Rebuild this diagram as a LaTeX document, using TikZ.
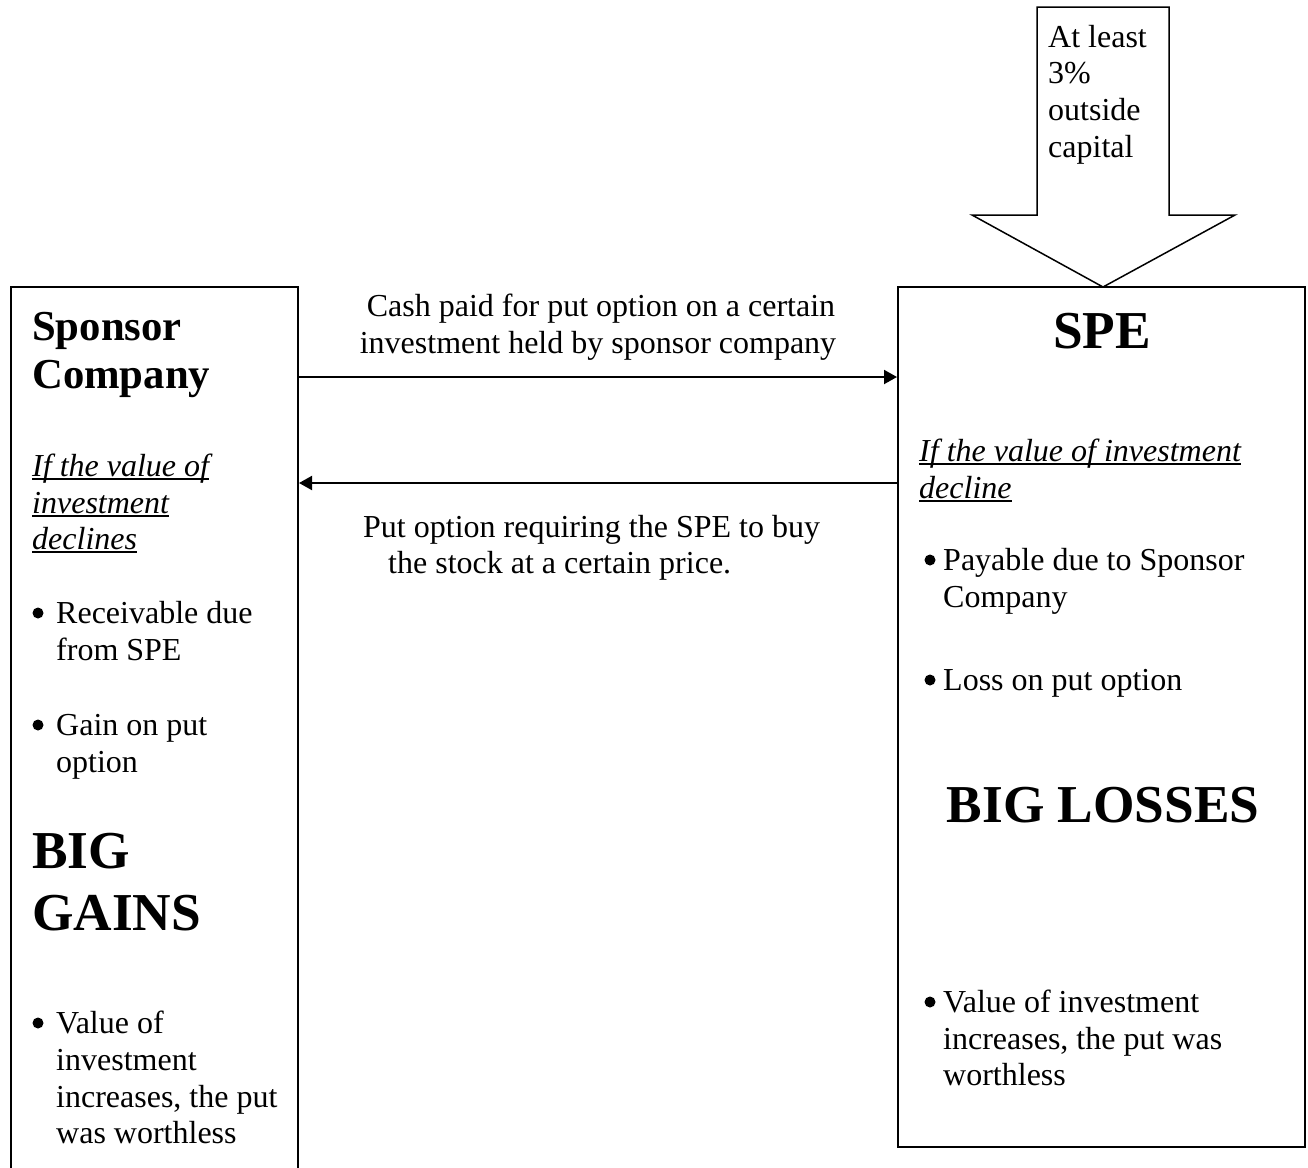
\documentclass[tikz,border=0pt]{standalone}
\usepackage{fontspec}
\setmainfont{Liberation Serif}
\usetikzlibrary{arrows.meta}

% text sizes (12pt, 16pt and 20pt at the picture's scale)
\newcommand\bodysize{\fontsize{32}{37}\selectfont}
\newcommand\headsize{\fontsize{42.7}{49}\selectfont\bfseries}
\newcommand\bigsize{\fontsize{53.3}{61}\selectfont\bfseries}
% underline drawn a few points below the baseline
\newcommand\underlined[1]{\setbox0\hbox{#1}\rlap{\rule[-4pt]{\wd0}{1.6pt}}\box0}

\begin{document}
\begin{tikzpicture}[x=1pt,y=-1pt,
  panel/.style={draw, line width=2pt, inner sep=0pt, outer sep=0pt, anchor=north west},
  txt/.style={font=\bodysize, inner sep=0pt, anchor=base west},
  ctxt/.style={font=\bodysize, inner sep=0pt, anchor=base},
  headtxt/.style={font=\headsize, inner sep=0pt, anchor=base west},
  bigtxt/.style={font=\bigsize, inner sep=0pt, anchor=base west},
  bulletmark/.style={circle, fill, inner sep=0pt, minimum size=11pt},
  flow/.style={line width=2pt, -{Triangle[length=13pt,width=14pt]}, shorten >=1pt}]

\useasboundingbox (0,0) rectangle (1308,1167);
\clip (0,0) rectangle (1308,1167);

% the two parties
\node[panel, minimum width=287pt, minimum height=900pt] (sponsor) at (11,287) {};
\node[panel, minimum width=407pt, minimum height=860pt] (spe) at (898,287) {};

% outside capital flowing into the SPE
\draw[line width=1.5pt, line join=miter]
  (1037,7) -- (1169,7) -- (1169,215) -- (1235,215) -- (spe.north -| 1103,0)
  -- (972,215) -- (1037,215) -- cycle;
\node[txt] (cap1) at (1048,47)  {At least};
\node[txt] (cap2) at (1048,83)  {3\%};
\node[txt] (cap3) at (1048,120) {outside};
\node[txt] (cap4) at (1048,157) {capital};

% connectors between the parties
\coordinate (lane1) at (0,377);
\coordinate (lane2) at (0,483);
\draw[flow] (sponsor.east |- lane1) -- (spe.west |- lane1);
\draw[flow] (spe.west |- lane2) -- (sponsor.east |- lane2);

\node[ctxt] (cash1) at (601,316) {Cash paid for put option on a certain};
\node[ctxt] (cash2) at (598,353) {investment held by sponsor company};
\node[txt] (put1) at (363,537) {Put option requiring the SPE to buy};
\node[txt] (put2) at (388,573) {the stock at a certain price.};

% sponsor company panel
\node[headtxt] (sp1) at (32,340) {Sponsor};
\node[headtxt] (sp2) at (32,388) {Company};
\node[txt] (sif1) at (32,476) {\underlined{\itshape If the value of}};
\node[txt] (sif2) at (32,513) {\underlined{\itshape investment}};
\node[txt] (sif3) at (32,549) {\underlined{\itshape declines}};
\node[bulletmark] (sb1) at (38,613) {};
\node[txt] (sr1) at (56,623) {Receivable due};
\node[txt] (sr2) at (56,660) {from SPE};
\node[bulletmark] (sb2) at (38,725) {};
\node[txt] (sg1) at (56,735) {Gain on put};
\node[txt] (sg2) at (56,772) {option};
\node[bigtxt] (big1) at (32,868) {BIG};
\node[bigtxt] (big2) at (32,930) {GAINS};
\node[bulletmark] (sb3) at (38,1023) {};
\node[txt] (sv1) at (56,1033) {Value of};
\node[txt] (sv2) at (56,1070) {investment};
\node[txt] (sv3) at (56,1107) {increases, the put};
\node[txt] (sv4) at (56,1143) {was worthless};

% SPE panel
\node[font=\bigsize, inner sep=0pt, anchor=base] (spename) at (1102,348) {SPE};
\node[txt] (eif1) at (919,461) {\underlined{\itshape If the value of investment}};
\node[txt] (eif2) at (919,498) {\underlined{\itshape decline}};
\node[bulletmark] (eb1) at (930,560) {};
\node[txt] (ep1) at (943,570) {Payable due to Sponsor};
\node[txt] (ep2) at (943,607) {Company};
\node[bulletmark] (eb2) at (930,680) {};
\node[txt] (el1) at (943,690) {Loss on put option};
\node[font=\bigsize, inner sep=0pt, anchor=base] (loss) at (1103,822) {BIG LOSSES};
\node[bulletmark] (eb3) at (930,1002) {};
\node[txt] (ev1) at (943,1012) {Value of investment};
\node[txt] (ev2) at (943,1049) {increases, the put was};
\node[txt] (ev3) at (943,1085) {worthless};
\end{tikzpicture}
\end{document}
